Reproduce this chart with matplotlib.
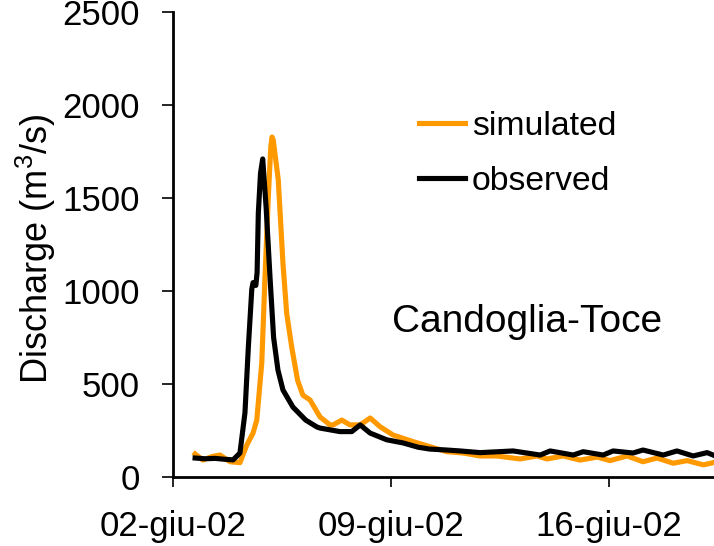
import numpy as np
import matplotlib
matplotlib.use('Agg')
import matplotlib.pyplot as plt

plt.rcParams['font.family'] = ['Liberation Sans', 'DejaVu Sans']
plt.rcParams['mathtext.fontset'] = 'custom'
plt.rcParams['mathtext.rm'] = 'Liberation Sans'
plt.rcParams['mathtext.it'] = 'Liberation Sans'

START = np.datetime64('2002-06-02T00:00')

# days since 02-giu-02, discharge in m3/s
obs_days = [0.71, 1.03, 1.35, 1.67, 1.93, 2.15, 2.31, 2.42, 2.53, 2.57, 2.66,
            2.70, 2.74, 2.81, 2.88, 2.99, 3.12, 3.23, 3.37, 3.53, 3.85, 4.26,
            4.62, 4.72, 5.36, 5.74, 6.01, 6.33, 6.86, 7.39, 7.87, 8.25,
            8.79, 9.22, 9.86, 10.34, 10.92, 11.79, 12.11, 12.85, 13.17, 13.81,
            14.13, 14.77, 15.09, 15.74, 16.18, 16.70, 17.15, 17.34]
obs_q = [102, 98, 100, 95, 92, 129, 344, 700, 1010, 1045, 1030,
         1100, 1420, 1634, 1710, 1450, 1060, 750, 575, 468, 376, 306,
         269, 263, 244, 244, 280, 236, 200, 183, 160, 150,
         145, 140, 131, 135, 140, 118, 140, 118, 136, 118,
         140, 129, 145, 118, 140, 113, 131, 118]

sim_days = [0.71, 0.96, 1.25, 1.51, 1.83, 2.15, 2.37, 2.57, 2.69, 2.85, 2.95,
            3.06, 3.14, 3.18, 3.22, 3.38, 3.53, 3.65, 3.81, 4.00, 4.17, 4.40,
            4.72, 5.04, 5.14, 5.42, 5.68, 6.01, 6.33, 6.65, 6.97, 7.06,
            7.71, 8.79, 9.31, 9.86, 10.40, 11.14, 11.69, 12.01, 12.52, 13.07,
            13.62, 14.03, 14.58, 15.09, 15.54, 16.06, 16.51, 17.03, 17.34]
sim_q = [124, 91, 110, 118, 82, 77, 172, 236, 306, 613, 1060,
         1505, 1774, 1828, 1810, 1597, 1150, 880, 700, 520, 440, 414,
         323, 280, 280, 306, 280, 280, 317, 270, 236, 226,
         190, 136, 129, 113, 113, 97, 113, 97, 113, 91,
         107, 88, 113, 82, 102, 74, 88, 65, 77]

tick_dates = ['2002-06-02', '2002-06-09', '2002-06-16']
tick_labels = ['02-giu-02', '09-giu-02', '16-giu-02']
y_ticks = [0, 500, 1000, 1500, 2000, 2500]


def to_dates(days):
    return START + (np.array(days) * 24 * 60).astype('timedelta64[m]')


fig = plt.figure(figsize=(7.14, 5.46), dpi=100)
ax = fig.add_axes([0.2423, 0.1264, 0.7577, 0.8516])

ax.plot(to_dates(sim_days), sim_q, color='#FF9900', lw=3.7, label='simulated',
        solid_joinstyle='round')
ax.plot(to_dates(obs_days), obs_q, color='black', lw=3.7, label='observed',
        solid_joinstyle='round')

ax.set_xlim(START, START + np.timedelta64(int(17.37 * 24 * 60), 'm'))
ax.set_ylim(0, 2500)
ax.set_yticks(y_ticks)
ax.set_xticks([np.datetime64(d) for d in tick_dates])
ax.set_xticklabels(tick_labels)

ax.spines['top'].set_visible(False)
ax.spines['right'].set_visible(False)
for s in ['left', 'bottom']:
    ax.spines[s].set_linewidth(2)
ax.tick_params(axis='both', direction='out', width=1.2, labelsize=25)
ax.tick_params(axis='y', length=8, pad=16)
ax.tick_params(axis='x', length=7, pad=17)

ax.set_ylabel('Discharge (m$^{3}$/s)', fontsize=26)
ax.yaxis.set_label_coords(-0.212, 0.49)

ax.text(0.405, 0.312, 'Candoglia-Toce', fontsize=28, transform=ax.transAxes)

ax.legend(loc='upper left', bbox_to_anchor=(0.454, 0.788), frameon=False,
          fontsize=24.3, handlelength=1.38, handletextpad=0.2, labelspacing=0.72,
          borderpad=0, borderaxespad=0)

fig.savefig('out.png', dpi=100)
